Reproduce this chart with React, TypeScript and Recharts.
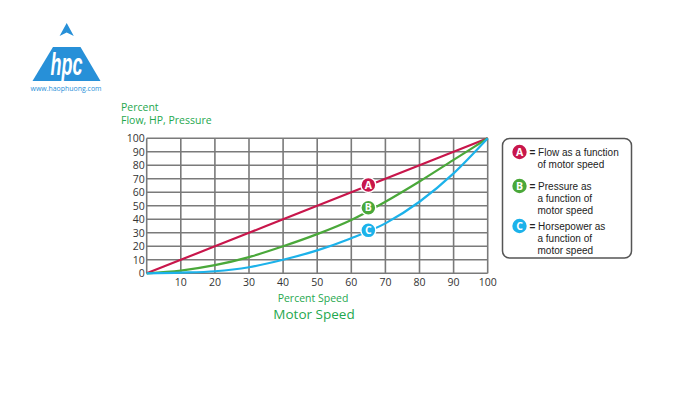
import React from "react";
import { LineChart, Line, XAxis, YAxis, CartesianGrid, ReferenceDot } from "recharts";

const speeds = [0, 10, 20, 30, 40, 50, 60, 70, 80, 90, 100];
const flowA = [0, 10, 20, 30, 40, 50, 60, 70, 80, 90, 100];
const pressureB = [0, 2, 6, 12, 20, 29, 39.5, 53, 68, 84, 100];
const horsepowerC = [0, 0.5, 1.5, 4.5, 10, 17, 26, 37, 53, 74, 100];

const xTicks = [0, 10, 20, 30, 40, 50, 60, 70, 80, 90, 100];
const yTicks = [0, 10, 20, 30, 40, 50, 60, 70, 80, 90, 100];

const markerLetters = ["A", "B", "C"];
const markerX = [65, 65, 65];
const markerY = [65.4, 48.6, 31.8];

const legendLines = [
  ["= Flow as a function", "of motor speed"],
  ["= Pressure as", "a function of", "motor speed"],
  ["= Horsepower as", "a function of", "motor speed"],
];

const RED = "#c8164b";
const GREEN = "#4aa83a";
const BLUE = "#1cb2ea";
const colors = [RED, GREEN, BLUE];
const TITLE_GREEN = "#1fa84f";
const LOGO = "#2790d8";
const FONT = "'Open Sans', 'Noto Sans', sans-serif";
const LEGEND_FONT = "'Liberation Sans', Arial, sans-serif";

const data = speeds.map((s, i) => ({
  speed: s,
  A: flowA[i],
  B: pressureB[i],
  C: horsepowerC[i],
}));

const makeMarker = (letter: string, color: string) => (props: any) => {
  const { cx, cy } = props;
  return (
    <g>
      <circle cx={cx} cy={cy} r={7.5} fill={color} stroke="#fff" strokeWidth={1.5} />
      <text
        x={cx}
        y={cy + 3.8}
        textAnchor="middle"
        fontFamily={FONT}
        fontWeight={700}
        fontSize={10.5}
        fill="#fff"
      >
        {letter}
      </text>
    </g>
  );
};

export default function App() {
  const legendY = [152, 186, 226];
  return (
    <div style={{ position: "absolute", left: 0, top: 0, width: 700, height: 400, background: "#fff" }}>
      <LineChart
        width={700}
        height={400}
        data={data}
        margin={{ top: 138.3, right: 212.3, bottom: 96.7, left: 106.7 }}
      >
        <CartesianGrid stroke="#7a7a7a" strokeWidth={1.6} />
        <XAxis
          dataKey="speed"
          type="number"
          domain={[0, 100]}
          ticks={xTicks}
          interval={0}
          tickFormatter={(v: number) => (v === 0 ? "" : String(v))}
          axisLine={false}
          tickLine={false}
          tickSize={0}
          tickMargin={5}
          height={30}
          tick={{ fill: "#333", fontSize: 10.5, fontFamily: FONT }}
        />
        <YAxis
          type="number"
          domain={[0, 100]}
          ticks={yTicks}
          interval={0}
          axisLine={false}
          tickLine={false}
          tickSize={0}
          tickMargin={2}
          width={40}
          tick={{ fill: "#333", fontSize: 10.5, fontFamily: FONT }}
        />
        <Line type="monotone" dataKey="A" stroke={RED} strokeWidth={2.2} dot={false} isAnimationActive={false} />
        <Line type="monotone" dataKey="B" stroke={GREEN} strokeWidth={2.2} dot={false} isAnimationActive={false} />
        <Line type="monotone" dataKey="C" stroke={BLUE} strokeWidth={2.2} dot={false} isAnimationActive={false} />
        {markerLetters.map((l, i) => (
          <ReferenceDot
            key={l}
            x={markerX[i]}
            y={markerY[i]}
            r={7.5}
            shape={makeMarker(l, colors[i])}
          />
        ))}
      </LineChart>
      <svg
        width={700}
        height={400}
        style={{ position: "absolute", left: 0, top: 0, pointerEvents: "none" }}
      >
        {/* logo */}
        <polygon points="66.7,23 73.8,36 66.7,32.5 59.6,36" fill={LOGO} />
        <polygon points="53,47 80.5,47 100.5,81 32.5,81" fill={LOGO} />
        <text
          x={66.5}
          y={75}
          textAnchor="middle"
          fontFamily="'Liberation Sans', Arial, sans-serif"
          fontStyle="italic"
          fontWeight={700}
          fontSize={32}
          textLength={32}
          lengthAdjust="spacingAndGlyphs"
          fill="#fff"
        >
          hpc
        </text>
        <text
          x={66}
          y={90.5}
          textAnchor="middle"
          fontFamily={FONT}
          fontSize={7}
          textLength={71}
          lengthAdjust="spacingAndGlyphs"
          fill={LOGO}
        >
          www.haophuong.com
        </text>

        {/* axis titles */}
        <text fontFamily={FONT} fontSize={10.5} fill={TITLE_GREEN}>
          <tspan x={121} y={111}>Percent</tspan>
          <tspan x={121} y={123.5}>Flow, HP, Pressure</tspan>
        </text>
        <text x={313} y={302} textAnchor="middle" fontFamily={FONT} fontSize={10.5} fill={TITLE_GREEN}>
          Percent Speed
        </text>
        <text x={314} y={318.5} textAnchor="middle" fontFamily={FONT} fontSize={13.5} fill={TITLE_GREEN}>
          Motor Speed
        </text>

        {/* legend box */}
        <rect x={502.5} y={138.5} width={129} height={119.5} rx={7} fill="#fff" stroke="#555" strokeWidth={1.5} />
        {legendLines.map((lines, i) => (
          <g key={i}>
            <circle cx={519.5} cy={legendY[i]} r={7.2} fill={colors[i]} />
            <text
              x={519.5}
              y={legendY[i] + 3.7}
              textAnchor="middle"
              fontFamily={FONT}
              fontWeight={700}
              fontSize={10.5}
              fill="#fff"
            >
              {markerLetters[i]}
            </text>
            <text fontFamily={LEGEND_FONT} fontSize={10} fill="#222">
              {lines.map((t, j) =>
                j === 0 ? (
                  <tspan key={j} x={529.5} y={legendY[i] + 3.6}>
                    <tspan fontWeight={700}>=</tspan>
                    {t.slice(1)}
                  </tspan>
                ) : (
                  <tspan key={j} x={537.5} y={legendY[i] + 3.6 + j * 12}>
                    {t}
                  </tspan>
                )
              )}
            </text>
          </g>
        ))}
      </svg>
    </div>
  );
}
